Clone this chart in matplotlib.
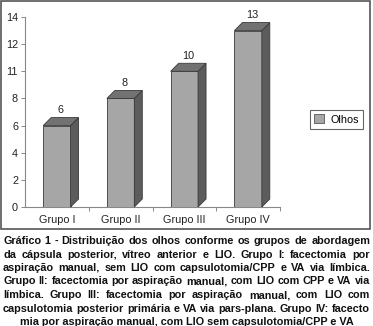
import matplotlib
matplotlib.use("Agg")
import matplotlib.pyplot as plt
from matplotlib.patches import Rectangle, Patch

plt.rcParams['font.family'] = ['Liberation Sans', 'DejaVu Sans']

# dados
categorias = ['Grupo I', 'Grupo II', 'Grupo III', 'Grupo IV']
olhos = [6, 8, 10, 13]
yticks = [0, 2, 4, 6, 8, 10, 12, 14]
ytick_labels = ['0', '2', '4', '6', '8', '11', '12', '14']
legenda = 'Olhos'
legenda_fig = [
    "Gráfico 1 - Distribuição dos olhos conforme os grupos de abordagem",
    "da cápsula posterior, vítreo anterior e LIO. Grupo I: facectomia por",
    "aspiração manual, sem LIO com capsulotomia/CPP e VA via límbica.",
    "Grupo II: facectomia por aspiração manual, com LIO com CPP e VA via",
    "límbica. Grupo III: facectomia por aspiração manual, com LIO com",
    "capsulotomia posterior primária e VA via pars-plana. Grupo IV: facecto",
    "mia por aspiração manual, com LIO sem capsulotomia/CPP e VA",
]

W, H = 373, 326
fig = plt.figure(figsize=(W / 100, H / 100), dpi=100)

def fx(px):
    return px / W

def fy(py):
    return 1 - py / H

# caixa do grafico
fig.patches.append(Rectangle((fx(1), fy(229)), fx(370) - fx(1), fy(1) - fy(229),
                             transform=fig.transFigure, fill=False,
                             edgecolor='#555555', linewidth=1.2))

ax = fig.add_axes([fx(25), fy(207), fx(280) - fx(25), fy(17) - fy(207)])
ax.set_xlim(-0.5, 3.5)
ax.set_ylim(0, 14)

largura = 0.43
dx = 0.125   # profundidade 3D
dy = 0.59
frente, lado, topo = '#a6a6a6', '#5c5c5c', '#727272'
borda = '#3a3a3a'

x = list(range(len(olhos)))
ax.bar(x, olhos, width=largura, color=frente, edgecolor=borda, linewidth=0.6, zorder=3)
for i, v in zip(x, olhos):
    x0, x1 = i - largura / 2, i + largura / 2
    ax.fill([x1, x1 + dx, x1 + dx, x1], [0, dy, v + dy, v],
            color=lado, edgecolor=borda, linewidth=0.6, zorder=3, clip_on=False)
    ax.fill([x0, x0 + dx, x1 + dx, x1], [v, v + dy, v + dy, v],
            color=topo, edgecolor=borda, linewidth=0.6, zorder=3, clip_on=False)
    ax.text(i + dx / 2, v + dy + 0.2, str(v), ha='center', va='bottom',
            fontsize=7.8, color='#222222', clip_on=False)

for s in ['top', 'right']:
    ax.spines[s].set_visible(False)
for s in ['left', 'bottom']:
    ax.spines[s].set_color('#888888')
    ax.spines[s].set_linewidth(0.8)

ax.set_yticks(yticks)
ax.set_yticklabels(ytick_labels)
ax.tick_params(axis='y', length=3, width=0.7, color='#888888', pad=2,
               labelsize=7.8, labelcolor='#222222')
ax.set_xticks(x)
ax.set_xticklabels(categorias)
ax.tick_params(axis='x', which='major', length=0, pad=6, labelsize=7.8, labelcolor='#222222')
ax.set_xticks([0.5, 1.5, 2.5, 3.5], minor=True)
ax.tick_params(axis='x', which='minor', length=3, width=0.7, color='#888888')

leg = fig.legend(handles=[Patch(facecolor=frente, edgecolor='#555555', linewidth=0.6)],
                 labels=[legenda], loc='center', bbox_to_anchor=(fx(336.5), fy(119.5)),
                 fontsize=7.8, fancybox=False, framealpha=1, edgecolor='#666666',
                 handlelength=0.9, handleheight=0.9, handletextpad=0.6,
                 borderpad=0.4, borderaxespad=0)
leg.get_frame().set_linewidth(0.8)

# legenda da figura, justificada
renderer = fig.canvas.get_renderer()
esq, dir_ = 3, 370
y0, passo = 244, 13.5

# tamanho de fonte para que a linha mais longa caiba
medidas = []
for linha in legenda_fig:
    t = fig.text(0, 0, linha, fontsize=10, fontweight='bold')
    medidas.append(t.get_window_extent(renderer).width)
    t.remove()
tam = 10 * (dir_ - esq) / max(medidas) * 0.995

for n, linha in enumerate(legenda_fig):
    yy = fy(round(y0 + n * passo))
    if n == len(legenda_fig) - 1:
        fig.text(fx((esq + dir_) / 2), yy, linha, ha='center', va='baseline',
                 fontsize=tam, fontweight='bold', color='#111111')
        continue
    palavras = linha.split(' ')
    objs = [fig.text(0, yy, p, ha='left', va='baseline', fontsize=tam,
                     fontweight='bold', color='#111111') for p in palavras]
    larguras = [t.get_window_extent(renderer).width for t in objs]
    gap = (dir_ - esq - sum(larguras)) / (len(objs) - 1)
    pos = esq
    for t, w in zip(objs, larguras):
        t.set_x(fx(pos))
        pos += w + gap

fig.savefig('out.png', dpi=100)
